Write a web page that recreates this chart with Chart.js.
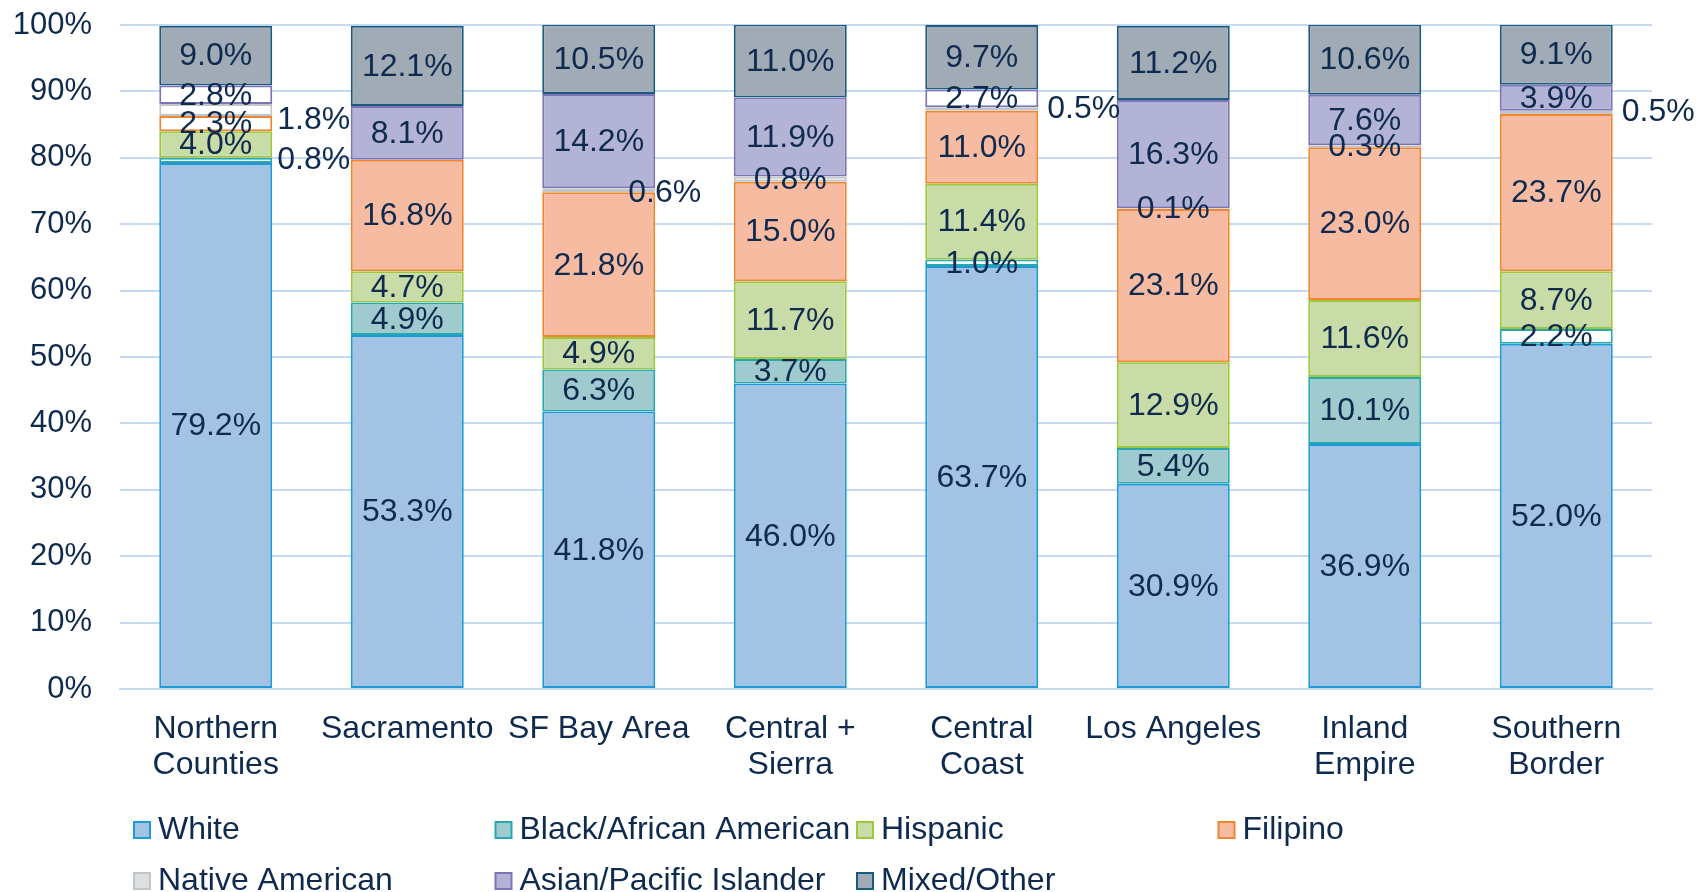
<!DOCTYPE html>
<html>
<head>
<meta charset="utf-8">
<script src="https://cdn.jsdelivr.net/npm/chart.js@4/dist/chart.umd.min.js"></script>
<style>
  body { margin: 0; background: #fff; }
  canvas { display: block; }
</style>
</head>
<body>
<canvas id="raceChart" width="1698" height="892"></canvas>
<script>
const categories = [['Northern', 'Counties'], 'Sacramento', 'SF Bay Area', ['Central +', 'Sierra'],
    ['Central', 'Coast'], 'Los Angeles', ['Inland', 'Empire'], ['Southern', 'Border']];

const white    = [79.2, 53.3, 41.8, 46.0, 63.7, 30.9, 36.9, 52.0];
const black    = [0.8, 4.9, 6.3, 3.7, 1.0, 5.4, 10.1, 2.2];
const hispanic = [4.0, 4.7, 4.9, 11.7, 11.4, 12.9, 11.6, 8.7];
const filipino = [2.3, 16.8, 21.8, 15.0, 11.0, 23.1, 23.0, 23.7];
const native   = [1.8, 0, 0.6, 0.8, 0.5, 0.1, 0.3, 0.5];
const asian    = [2.8, 8.1, 14.2, 11.9, 2.7, 16.3, 7.6, 3.9];
const mixed    = [9.0, 12.1, 10.5, 11.0, 9.7, 11.2, 10.6, 9.1];

const yTicks = [0, 10, 20, 30, 40, 50, 60, 70, 80, 90, 100];

// labels drawn beside the bar instead of inside: [category, dataset, dx, dy]
const outsideLabels = [[0, 1, 0, 0], [0, 4, 0, 10], [2, 4, -32, 3], [4, 4, 4, 0], [7, 4, 4, 0]];
// segments that were left unfilled in the original: [category, dataset]
const blankSegments = [[0, 1], [0, 3], [0, 4], [0, 5], [4, 1], [4, 5], [7, 1]];

const textColor = '#0E2A4E';
const fontFamily = '"Liberation Sans", Arial, sans-serif';
const gridColor = '#C6DAF4';

function findPair(list, c, d) {
    return list.find(p => p[0] === c && p[1] === d);
}

function series(label, data, fill, border, idx) {
    return {
        label: label,
        data: data,
        backgroundColor: ctx => findPair(blankSegments, ctx.dataIndex, idx) ? '#FFFFFF' : fill,
        legendFill: fill,
        borderColor: border,
        borderWidth: 2,
        borderSkipped: false,
        barPercentage: 0.59,
        categoryPercentage: 1.0
    };
}

const datasets = [
    series('White', white, '#A2C3E4', '#1E9AD6', 0),
    series('Black/African American', black, '#A0CBCE', '#27A7B0', 1),
    series('Hispanic', hispanic, '#C9DBA7', '#9CC83E', 2),
    series('Filipino', filipino, '#F7BBA2', '#F0862E', 3),
    series('Native American', native, '#DDE0E3', '#C3C6C9', 4),
    series('Asian/Pacific Islander', asian, '#B3B3D6', '#7C74B8', 5),
    series('Mixed/Other', mixed, '#A0ABB6', '#1B5C7E', 6)
];

const valueLabels = {
    id: 'valueLabels',
    afterDatasetsDraw(chart) {
        const ctx = chart.ctx;
        ctx.save();
        ctx.font = '32px ' + fontFamily;
        ctx.fillStyle = textColor;
        ctx.textBaseline = 'middle';
        chart.data.datasets.forEach((ds, d) => {
            const meta = chart.getDatasetMeta(d);
            meta.data.forEach((bar, c) => {
                const v = ds.data[c];
                if (!v) return;
                const txt = v.toFixed(1) + '%';
                const y = (bar.y + bar.base) / 2;
                const out = findPair(outsideLabels, c, d);
                if (out) {
                    ctx.textAlign = 'left';
                    ctx.fillText(txt, bar.x + bar.width / 2 + 5 + out[2], y + out[3]);
                } else {
                    ctx.textAlign = 'center';
                    ctx.fillText(txt, bar.x, y + 1);
                }
            });
        });
        ctx.restore();
    }
};

const gridLegend = {
    id: 'gridLegend',
    afterDraw(chart) {
        const ctx = chart.ctx;
        ctx.save();
        ctx.font = '32px ' + fontFamily;
        ctx.textBaseline = 'middle';
        ctx.textAlign = 'left';
        chart.data.datasets.forEach((ds, i) => {
            const x = 134 + (i % 4) * 361.5;
            const y = 830 + Math.floor(i / 4) * 51;
            ctx.fillStyle = ds.legendFill;
            ctx.fillRect(x, y - 8, 16, 16);
            ctx.strokeStyle = ds.borderColor;
            ctx.lineWidth = 2;
            ctx.strokeRect(x, y - 8, 16, 16);
            ctx.fillStyle = textColor;
            ctx.fillText(ds.label, x + 24, y);
        });
        ctx.restore();
    }
};

new Chart(document.getElementById('raceChart'), {
    type: 'bar',
    data: { labels: categories, datasets: datasets },
    options: {
        responsive: false,
        animation: false,
        layout: { padding: { top: 25, right: 46, left: 0, bottom: 0 } },
        plugins: { legend: { display: false }, tooltip: { enabled: false } },
        scales: {
            x: {
                stacked: true,
                grid: { display: false },
                border: { color: gridColor, width: 2 },
                ticks: {
                    color: textColor,
                    font: { family: fontFamily, size: 32, lineHeight: 36 / 32 },
                    padding: 14,
                    maxRotation: 0,
                    autoSkip: false
                },
                afterFit: s => { s.height = 203; s.paddingLeft = 0; s.paddingRight = 0; }
            },
            y: {
                stacked: true,
                min: 0,
                max: 100,
                afterBuildTicks: s => { s.ticks = yTicks.map(v => ({ value: v })); },
                ticks: {
                    color: textColor,
                    font: { family: fontFamily, size: 31 },
                    padding: 28,
                    callback: v => v + '%'
                },
                grid: { color: gridColor, lineWidth: 2, drawTicks: false },
                border: { display: false },
                afterFit: s => { s.width = 120; s.paddingTop = 0; s.paddingBottom = 0; }
            }
        }
    },
    plugins: [valueLabels, gridLegend]
});
</script>
</body>
</html>
